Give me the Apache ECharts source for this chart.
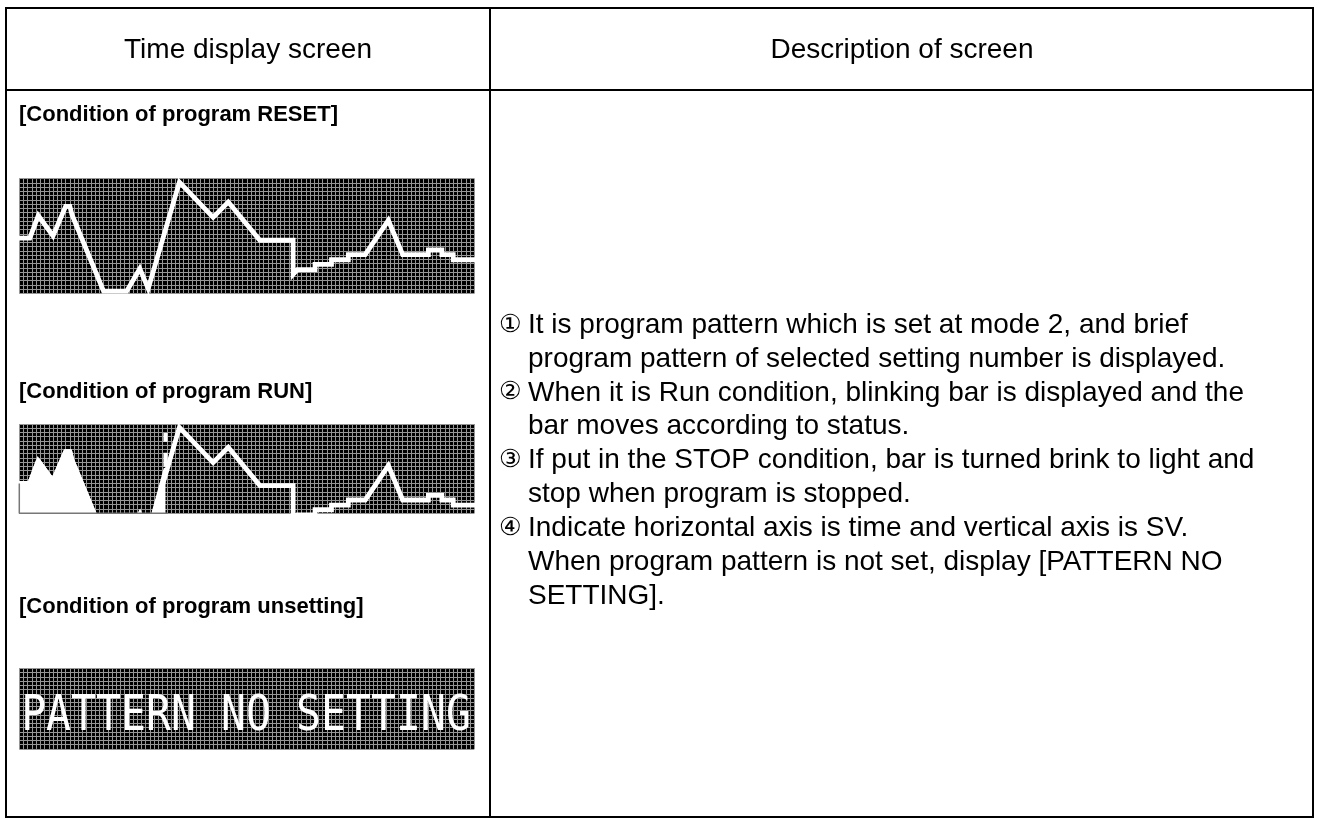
<!DOCTYPE html>
<html><head><meta charset="utf-8">
<script src="https://cdn.jsdelivr.net/npm/echarts@6/dist/echarts.min.js"></script>
<style>html,body{margin:0;padding:0;background:#fff}#c{width:1320px;height:820px}</style>
</head><body><div id="c"></div>
<script>
// LCD program pattern (time in LCD columns, SV in LCD rows from bottom)
const patternTime = [0,2.5,4.5,8,11,12,12.5,20,25.5,28.6,30.6,38,46,49.6,57.1,65,65,66,70.2,70.2,74.1,74.1,78.1,78.1,82.1,87.6,91,97.1,97.1,100.3,100.3,103,103,108];
const patternSV   = [13,13,18.3,13.5,20.5,20.5,18.5,0.5,0.5,5.8,1.1,26.2,17.9,21.5,12.5,12.5,4.5,5.6,5.6,6.8,6.8,7.9,7.9,9.1,9.1,17.2,9.1,9.1,10.2,10.2,9.1,9.1,7.9,7.9];
const lcdCols = 108, lcdRows = 27;
const runBarTime = 34.7, runBarSV = 16;
const runBarDashes = [[24.9, 22.8], [20.2, 16.9]];
const runMinSV = 6;
const unsetRows = 19;
const unsetText = 'PATTERN NO SETTING';
const headers = ['Time display screen', 'Description of screen'];
const conditions = ['[Condition of program RESET]', '[Condition of program RUN]', '[Condition of program unsetting]'];
const descMarks = ['①', '', '②', '', '③', '', '④', '', ''];
const descLines = [
  'It is program pattern which is set at mode 2, and brief',
  'program pattern of selected setting number is displayed.',
  'When it is Run condition, blinking bar is displayed and the',
  'bar moves according to status.',
  'If put in the STOP condition, bar is turned brink to light and',
  'stop when program is stopped.',
  'Indicate horizontal axis is time and vertical axis is SV.',
  'When program pattern is not set, display [PATTERN NO',
  'SETTING].'
];

const chart = echarts.init(document.getElementById('c'), null, {renderer: 'canvas'});
const pattern = patternTime.map((t, i) => [t, patternSV[i]]);
const runFill = pattern.filter(p => p[0] <= runBarTime).concat([[runBarTime, runBarSV]]);

const gridColor = '#969696';
function mkX(gi) {
  return {gridIndex: gi, type: 'value', min: 0, max: lcdCols, interval: 1,
    axisLine: {show: false}, axisTick: {show: false}, axisLabel: {show: false},
    splitLine: {show: true, lineStyle: {color: gridColor, width: 1}}};
}
function mkY(gi, min, max) {
  return {gridIndex: gi, type: 'value', min: min, max: max, interval: 1,
    axisLine: {show: false}, axisTick: {show: false}, axisLabel: {show: false},
    splitLine: {show: true, lineStyle: {color: gridColor, width: 1}}};
}
const cell = 455 / lcdCols;
const rowH = 114.6 / lcdRows;
const lineW = 4.8;
const patLine = (gi) => ({type: 'line', xAxisIndex: gi, yAxisIndex: gi, data: pattern, symbol: 'none',
  animation: false, lineStyle: {color: '#fff', width: lineW, cap: 'square', join: 'miter'}, z: 3});

const font = "'Liberation Sans', Arial, 'Noto Sans CJK JP', sans-serif";
const bodySize = 28;
const graphics = [
  {type: 'rect', shape: {x: 6, y: 8, width: 1307, height: 809}, style: {fill: 'none', stroke: '#000', lineWidth: 2}, z: 100},
  {type: 'line', shape: {x1: 6, y1: 90, x2: 1313, y2: 90}, style: {stroke: '#000', lineWidth: 2}, z: 100},
  {type: 'line', shape: {x1: 490, y1: 8, x2: 490, y2: 817}, style: {stroke: '#000', lineWidth: 2}, z: 100},
  {type: 'text', style: {text: headers[0], x: 248, y: 50, fontSize: 28, fontFamily: font, fill: '#000', align: 'center', verticalAlign: 'middle'}, z: 100},
  {type: 'text', style: {text: headers[1], x: 902, y: 50, fontSize: 28, fontFamily: font, fill: '#000', align: 'center', verticalAlign: 'middle'}, z: 100},
  {type: 'text', style: {text: conditions[0], x: 19, y: 115, fontSize: 22, fontWeight: 'bold', fontFamily: font, fill: '#000', align: 'left', verticalAlign: 'middle'}, z: 100},
  {type: 'text', style: {text: conditions[1], x: 19, y: 392, fontSize: 22, fontWeight: 'bold', fontFamily: font, fill: '#000', align: 'left', verticalAlign: 'middle'}, z: 100},
  {type: 'text', style: {text: conditions[2], x: 19, y: 607, fontSize: 22, fontWeight: 'bold', fontFamily: font, fill: '#000', align: 'left', verticalAlign: 'middle'}, z: 100},
  {type: 'text', scaleY: 1.2, x: 246, y: 717, style: {text: unsetText, x: 0, y: 0, fontSize: 41.5, fontFamily: "'DejaVu Sans Mono', monospace", fill: '#fff', align: 'center', verticalAlign: 'middle'}, z: 100}
];
descLines.forEach((s, i) => {
  const y = 325 + i * 33.9;
  if (descMarks[i]) graphics.push({type: 'text', style: {text: descMarks[i], x: 499, y: y, fontSize: 25, fontFamily: "'DejaVu Sans', 'Noto Sans CJK JP', sans-serif", fill: '#000', align: 'left', verticalAlign: 'middle'}, z: 100});
  graphics.push({type: 'text', style: {text: s, x: 528, y: y, fontSize: bodySize, fontFamily: font, fill: '#000', align: 'left', verticalAlign: 'middle'}, z: 100});
});

const option = {
  animation: false,
  backgroundColor: '#fff',
  grid: [
    {left: 19.3, top: 178.7, width: 455, height: lcdRows * rowH, show: true, backgroundColor: '#000', borderWidth: 0},
    {left: 19.3, top: 424, width: 455, height: (lcdRows - runMinSV) * rowH, show: true, backgroundColor: '#000', borderWidth: 0},
    {left: 19.3, top: 668.3, width: 455, height: unsetRows * rowH, show: true, backgroundColor: '#000', borderWidth: 0}
  ],
  xAxis: [mkX(0), mkX(1), mkX(2)],
  yAxis: [mkY(0, 0, lcdRows), mkY(1, runMinSV, lcdRows), mkY(2, 0, unsetRows)],
  series: [
    patLine(0),
    {type: 'line', xAxisIndex: 1, yAxisIndex: 1, data: runFill, symbol: 'none', lineStyle: {color: '#fff', width: lineW, cap: 'square'},
      areaStyle: {color: '#fff', opacity: 1, origin: 'start'}, z: 2},
    patLine(1),
    {type: 'line', xAxisIndex: 1, yAxisIndex: 1, symbol: 'none', clip: false, z: 4,
      data: [[patternTime[0], patternSV[0]], [patternTime[0], runMinSV], [runBarTime + 0.5, runMinSV]],
      lineStyle: {color: '#777', width: 1.5}},
    ...runBarDashes.map(d => ({type: 'line', xAxisIndex: 1, yAxisIndex: 1, symbol: 'none', z: 4,
      data: [[runBarTime, d[0]], [runBarTime, d[1]]], lineStyle: {color: '#fff', width: cell, cap: 'butt'}}))
  ],
  graphic: graphics
};
chart.setOption(option);
</script></body></html>
